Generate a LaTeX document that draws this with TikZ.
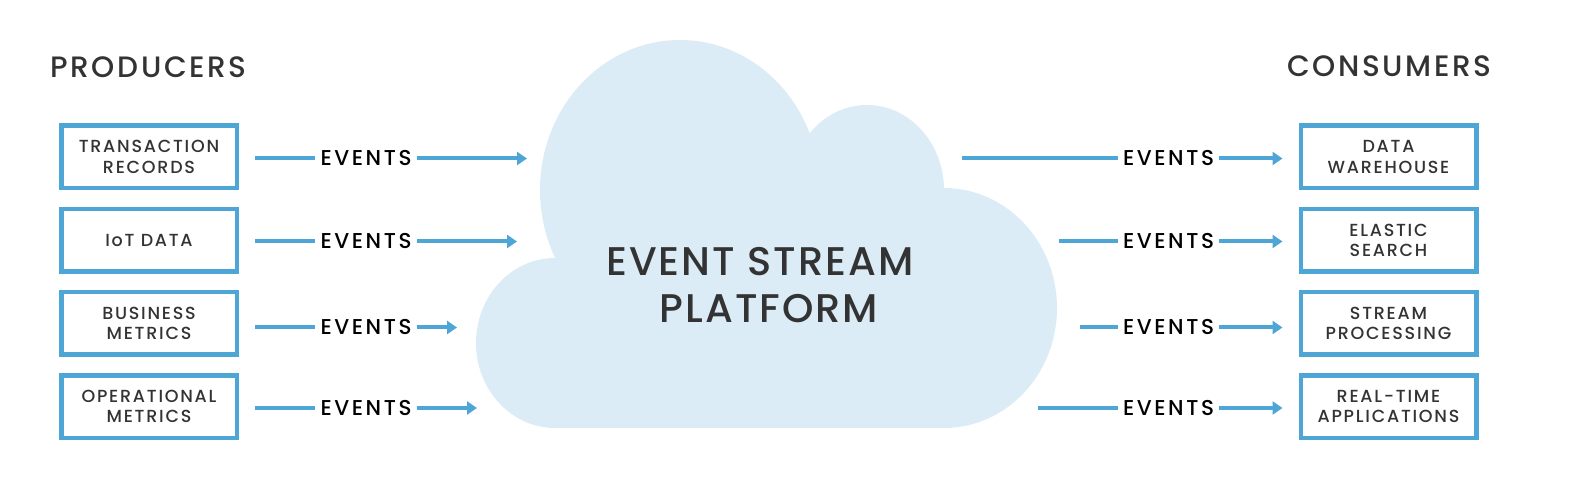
\documentclass[tikz,border=0pt]{standalone}
\usepackage{fontspec}
\setmainfont{Poppins Medium}
\usetikzlibrary{arrows.meta,calc}
\definecolor{eblue}{HTML}{4DA6D6}
\definecolor{cloudfill}{HTML}{DBECF7}
\definecolor{txt}{HTML}{333333}
\begin{document}
\begin{tikzpicture}[x=1pt,y=-1pt,
  srcbox/.style={draw=eblue,line width=4.5pt,minimum width=175.5pt,minimum height=62.5pt,inner sep=0pt,align=center,font=\fontsize{17.5}{20.5}\selectfont\addfontfeature{LetterSpace=10},text=txt},
  lbl/.style={font=\fontsize{21.5}{24}\selectfont\addfontfeature{LetterSpace=12},inner xsep=5pt,inner ysep=0pt,text=black},
  arr/.style={draw=eblue,line width=4pt,-{Triangle[length=10pt,width=13pt]}},
  ln/.style={draw=eblue,line width=4pt},
  head/.style={font=\fontsize{29.5}{32}\selectfont\addfontfeature{LetterSpace=9},text=txt,inner sep=0pt},
  cloudtext/.style={font=\fontsize{40}{47}\selectfont\addfontfeature{LetterSpace=5},text=txt,align=center}]
\useasboundingbox (0,0) rectangle (1596,486);
% cloud
\fill[cloudfill] (555,343) ellipse[x radius=79, y radius=85];
\fill[cloudfill] (680,190) ellipse[x radius=140, y radius=150];
\fill[cloudfill] (867,190) ellipse[x radius=77, y radius=85];
\fill[cloudfill] (944,308) ellipse[x radius=113, y radius=120];
\fill[cloudfill] (555,200) rectangle (944,428);
\node[cloudtext] (esp) at (760,285) {EVENT STREAM\\\hspace*{18pt}PLATFORM};
% headers
\node[head,anchor=west] (prod) at (50,67) {PRODUCERS};
\node[head,anchor=east] (cons) at (1492,66) {CONSUMERS};
% producer boxes
\node[srcbox] (p1) at (149,157) {TRANSACTION\\RECORDS};
\node[srcbox] (p2) at (149,240.5) {IoT DATA};
\node[srcbox] (p3) at (149,323.5) {BUSINESS\\METRICS};
\node[srcbox] (p4) at (149,406.5) {OPERATIONAL\\METRICS};
% consumer boxes
\node[srcbox] (c1) at (1388.5,157) {DATA\\WAREHOUSE};
\node[srcbox] (c2) at (1388.5,240.5) {ELASTIC\\SEARCH};
\node[srcbox] (c3) at (1388.5,323.5) {STREAM\\PROCESSING};
\node[srcbox] (c4) at (1388.5,406.5) {REAL-TIME\\APPLICATIONS};
% labels
\node[lbl] (l1) at (366,158.5) {EVENTS};
\node[lbl] (l2) at (366,241.5) {EVENTS};
\node[lbl] (l3) at (366,327.5) {EVENTS};
\node[lbl] (l4) at (366,408) {EVENTS};
\node[lbl] (l5) at (1168.5,158.5) {EVENTS};
\node[lbl] (l6) at (1168.5,241.5) {EVENTS};
\node[lbl] (l7) at (1168.5,327.5) {EVENTS};
\node[lbl] (l8) at (1168.5,408) {EVENTS};
% free ends
\coordinate (t1) at (527,158.5);
\coordinate (t2) at (517,241.5);
\coordinate (t3) at (457,327.5);
\coordinate (t4) at (477,408);
\coordinate (s5) at (962,158.5);
\coordinate (s6) at (1059,241.5);
\coordinate (s7) at (1080,327.5);
\coordinate (s8) at (1038,408);
% producer connectors
\foreach \i in {1,2,3,4}{
  \draw[ln,shorten <=16pt] (p\i.east |- l\i) -- (l\i.west);
  \draw[arr] (l\i.east) -- (t\i);
}
% consumer connectors
\foreach \i/\c in {5/1,6/2,7/3,8/4}{
  \draw[ln] (s\i) -- (l\i.west);
  \draw[arr,shorten >=16pt] (l\i.east) -- (c\c.west |- l\i);
}
\end{tikzpicture}
\end{document}
